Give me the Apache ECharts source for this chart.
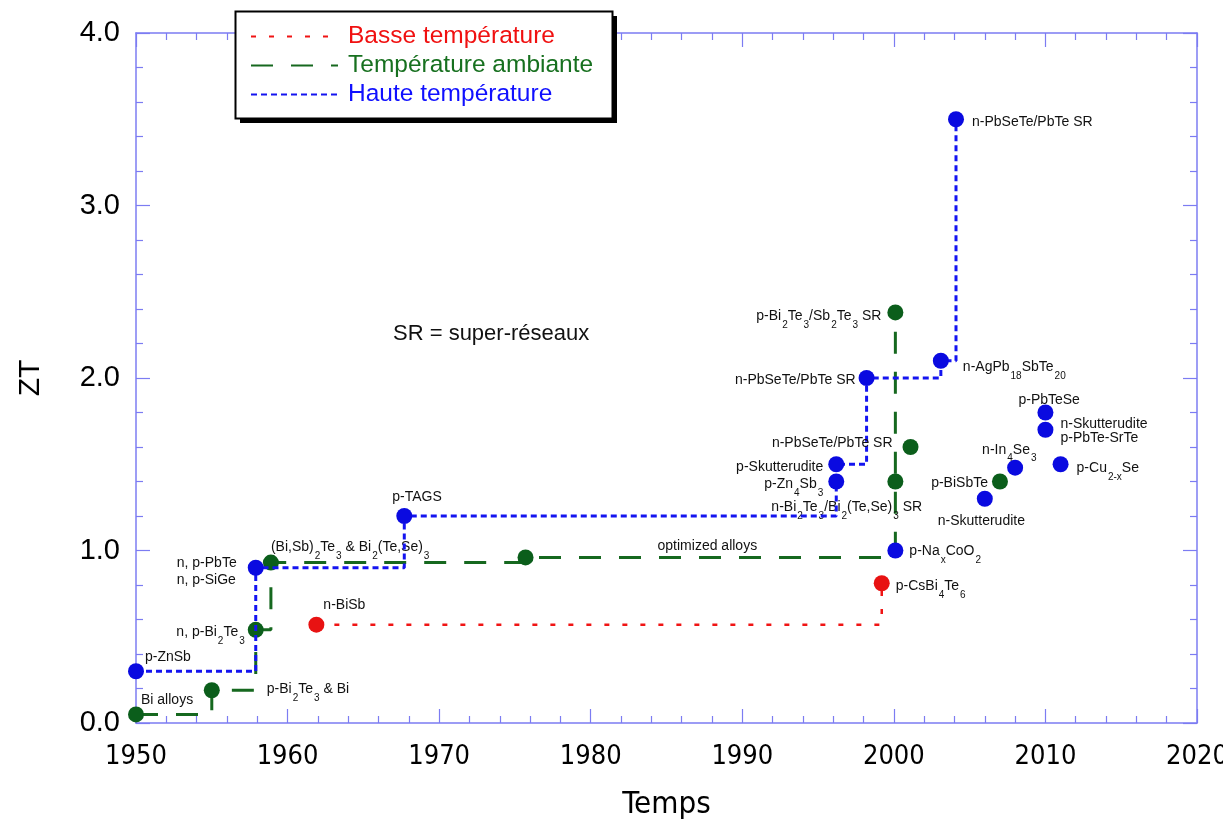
<!DOCTYPE html>
<html><head><meta charset="utf-8">
<script src="https://cdn.jsdelivr.net/npm/echarts@6/dist/echarts.min.js"></script>
<style>html,body{margin:0;padding:0;background:#fff}#chart{width:1223px;height:821px}</style>
</head><body><div id="chart"></div>
<script>
// ================= DATA =================
const seriesNames = ['Basse température', 'Température ambiante', 'Haute température'];

const lowYears = [1961.9, 1999.2];
const lowZT = [0.57, 0.81];
const lowLabels = ['n-BiSb', 'p-CsBi_{4}Te_{6}'];

const roomYears = [1950, 1955, 1957.9, 1958.9, 1975.7, 2000.1, 2000.1];
const roomZT = [0.05, 0.19, 0.54, 0.93, 0.96, 1.40, 2.38];
const roomLabels = ['Bi alloys', 'p-Bi_{2}Te_{3} & Bi', 'n, p-Bi_{2}Te_{3}',
  '(Bi,Sb)_{2}Te_{3} & Bi_{2}(Te,Se)_{3}', 'optimized alloys',
  'n-Bi_{2}Te_{3}/Bi_{2}(Te,Se)_{3} SR', 'p-Bi_{2}Te_{3}/Sb_{2}Te_{3} SR'];

const highYears = [1950, 1957.9, 1967.7, 1996.2, 1996.2, 1998.2, 2003.1, 2004.1];
const highZT = [0.30, 0.90, 1.20, 1.40, 1.50, 2.00, 2.10, 3.50];
const highLabels = ['p-ZnSb', 'n, p-PbTe\nn, p-SiGe', 'p-TAGS', 'p-Zn_{4}Sb_{3}',
  'p-Skutterudite', 'n-PbSeTe/PbTe SR', 'n-AgPb_{18}SbTe_{20}', 'n-PbSeTe/PbTe SR'];

const roomExtraYears = [2001.1, 2007.0];
const roomExtraZT = [1.60, 1.40];
const roomExtraLabels = ['n-PbSeTe/PbTe SR', 'p-BiSbTe'];

const highExtraYears = [2000.1, 2006.0, 2008.0, 2010.0, 2010.0, 2011.0];
const highExtraZT = [1.00, 1.30, 1.48, 1.80, 1.70, 1.50];
const highExtraLabels = ['p-Na_{x}CoO_{2}', 'n-Skutterudite', 'n-In_{4}Se_{3}', 'p-PbTeSe',
  'n-Skutterudite\np-PbTe-SrTe', 'p-Cu_{2-x}Se'];

const xRange = [1950, 2020];
const yRange = [0, 4];
const noteText = 'SR = super-réseaux';
const xTitle = 'Temps';
const yTitle = 'ZT';

// ================= LAYOUT (label placement: align, dx, dy, lineHeight) =================
const lowPlace = [['left', 7, -22], ['left', 14, 1]];
const roomPlace = [['left', 5, -16], ['left', 55, -3], ['right', -11, 0], ['left', 0, -17],
  ['left', 132, -13], ['left', -124, 24], ['right', -14, 2]];
const highPlace = [['left', 9, -16], ['left', -79, 4, 17], ['left', -12, -21], ['right', -13, 1],
  ['right', -13, 1], ['right', -11, 0], ['left', 22, 4], ['left', 16, 1]];
const roomExtraPlace = [['right', -18, -6], ['right', -12, 0]];
const highExtraPlace = [['left', 14, -1], ['left', -47, 20], ['left', -33, -20], ['left', -27, -14],
  ['left', 15, 1, 14], ['left', 16, 2]];
const RICH_SHIFT = -5;

const FONT = "'Liberation Sans', Arial, Helvetica, sans-serif";
const NARROW = "'Liberation Sans Narrow', 'DejaVu Sans Condensed', 'Liberation Sans', sans-serif";
const axisColor = '#7c7cf2';
const RED = '#e81212', GREEN = '#0b5e1b', BLUE = '#0a0ae0';

function richText(t) {
  if (t.indexOf('\n') >= 0) return t;
  const parts = t.split(/_\{([^}]*)\}/);
  let out = '';
  parts.forEach((p, i) => { if (!p) return; out += (i % 2 ? '{s|' : '{n|') + p + '}'; });
  return out;
}

const richStyles = {
  n: { fontSize: 14, lineHeight: 16, padding: [8, 0, 8, 0], verticalAlign: 'top', color: '#111', fontFamily: FONT },
  s: { fontSize: 10, lineHeight: 12, padding: [19, 0, 0, 1], verticalAlign: 'top', color: '#111', fontFamily: FONT }
};

function items(xs, ys, labels, place) {
  return xs.map((x, i) => {
    const multi = labels[i].indexOf('\n') >= 0;
    return {
      value: [x, ys[i]],
      label: {
        show: true, position: 'inside', align: place[i][0], verticalAlign: 'middle',
        offset: [place[i][1], place[i][2] + (multi ? 0 : RICH_SHIFT)], formatter: richText(labels[i]),
        lineHeight: place[i][3] || 16, fontSize: 14, fontFamily: FONT, color: '#111',
        rich: richStyles
      }
    };
  });
}

function axisCommon(extra) {
  return Object.assign({
    type: 'value',
    axisLine: { show: true, onZero: false, lineStyle: { color: axisColor, width: 1.5 } },
    axisTick: { show: true, inside: true, length: 14, lineStyle: { color: axisColor, width: 1.2 } },
    minorTick: { show: true, splitNumber: 5, length: 7, lineStyle: { color: axisColor, width: 1.2 } },
    splitLine: { show: false }
  }, extra);
}

const chart = echarts.init(document.getElementById('chart'), null, { renderer: 'canvas' });
chart.setOption({
  animation: false,
  backgroundColor: '#fff',
  grid: { left: 136, right: 26, top: 33, bottom: 98, containLabel: false, outerBoundsMode: 'none' },
  xAxis: [
    axisCommon({ min: xRange[0], max: xRange[1], interval: 10, position: 'bottom',
      axisLabel: { color: '#000', fontSize: 27, fontFamily: NARROW, margin: 20, formatter: v => String(v) },
      name: xTitle, nameLocation: 'middle', nameGap: 66,
      nameTextStyle: { color: '#000', fontSize: 31, fontFamily: NARROW } }),
    axisCommon({ min: xRange[0], max: xRange[1], interval: 10, position: 'top', axisLabel: { show: false } })
  ],
  yAxis: [
    axisCommon({ min: yRange[0], max: yRange[1], interval: 1, position: 'left',
      axisLabel: { color: '#000', fontSize: 29, fontFamily: FONT, margin: 16, formatter: v => v.toFixed(1) },
      name: yTitle, nameLocation: 'middle', nameGap: 90,
      nameTextStyle: { color: '#000', fontSize: 30, fontFamily: FONT } }),
    axisCommon({ min: yRange[0], max: yRange[1], interval: 1, position: 'right', axisLabel: { show: false } })
  ],
  legend: {
    left: 250, top: 24, orient: 'vertical', padding: 0, z: 10,
    itemWidth: 87, itemHeight: 14, itemGap: 4, selectedMode: false,
    itemStyle: { opacity: 0 },
    textStyle: { fontSize: 24.5, fontFamily: FONT, lineHeight: 24, padding: [0, 0, 0, 5] },
    data: [
      { name: seriesNames[0], textStyle: { color: '#f01010' } },
      { name: seriesNames[1], textStyle: { color: '#17701f' } },
      { name: seriesNames[2], textStyle: { color: '#1010ff' } }
    ]
  },
  graphic: [
    { type: 'rect', z: 8, silent: true, shape: { x: 240, y: 16, width: 377, height: 107 }, style: { fill: '#000' } },
    { type: 'rect', z: 9, silent: true, shape: { x: 235.5, y: 11.5, width: 377, height: 107 }, style: { fill: '#fff', stroke: '#000', lineWidth: 2 } },
    { type: 'text', z: 9, silent: true, x: 393, y: 334, style: { text: noteText, fontSize: 22, fontFamily: FONT, fill: '#111', verticalAlign: 'middle' } }
  ],
  series: [
    { name: seriesNames[0], type: 'line', step: 'end', symbol: 'circle', symbolSize: 16,
      data: items(lowYears, lowZT, lowLabels, lowPlace),
      itemStyle: { color: RED }, lineStyle: { color: '#f01414', width: 2.5, type: [5, 13] },
      emphasis: { disabled: true }, z: 3 },
    { name: seriesNames[1], type: 'line', step: 'end', symbol: 'circle', symbolSize: 16,
      data: items(roomYears, roomZT, roomLabels, roomPlace),
      itemStyle: { color: GREEN }, lineStyle: { color: '#16681f', width: 3, type: [22, 18] },
      emphasis: { disabled: true }, z: 3 },
    { name: seriesNames[2], type: 'line', step: 'end', symbol: 'circle', symbolSize: 16,
      data: items(highYears, highZT, highLabels, highPlace),
      itemStyle: { color: BLUE }, lineStyle: { color: '#1414f0', width: 3, type: [6, 4] },
      emphasis: { disabled: true }, z: 4 },
    { name: 'room-extra', type: 'scatter', symbol: 'circle', symbolSize: 16,
      data: items(roomExtraYears, roomExtraZT, roomExtraLabels, roomExtraPlace),
      itemStyle: { color: GREEN, opacity: 1 }, emphasis: { disabled: true }, z: 4 },
    { name: 'high-extra', type: 'scatter', symbol: 'circle', symbolSize: 16,
      data: items(highExtraYears, highExtraZT, highExtraLabels, highExtraPlace),
      itemStyle: { color: BLUE, opacity: 1 }, emphasis: { disabled: true }, z: 5 }
  ]
});
</script>
</body></html>
